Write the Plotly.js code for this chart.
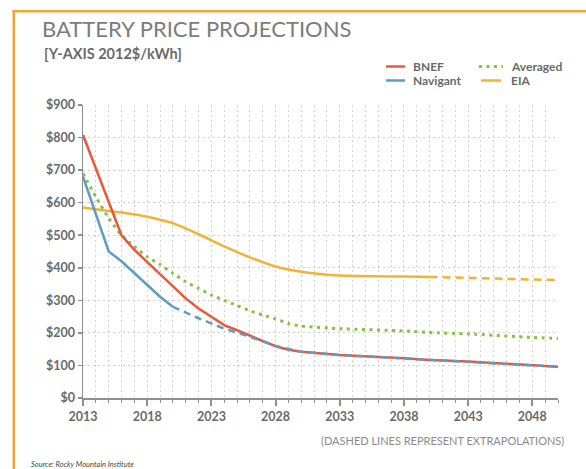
<!DOCTYPE html>
<html>
<head>
<meta charset="utf-8">
<script src="https://cdn.plot.ly/plotly-3.0.1.min.js"></script>
<style>
  html, body { margin: 0; padding: 0; background: #ffffff; }
  #chart { width: 586px; height: 469px; }
</style>
</head>
<body>
<div id="chart"></div>
<script>
// ---------------- DATA ----------------
var bnefYears = [2013, 2016, 2017, 2018, 2019, 2020, 2021, 2022, 2023, 2024, 2025, 2026, 2027, 2028, 2029, 2030];
var bnefPrice = [808, 500, 455, 418, 380, 342, 306, 275, 250, 224, 208, 192, 174, 159, 148, 142];
var bnefExtYears = [2030, 2033, 2038, 2040, 2043, 2048, 2050];
var bnefExtPrice = [142, 132, 122, 117, 112, 100, 96];

var navYears = [2013, 2015, 2016, 2017, 2018, 2019, 2020];
var navPrice = [680, 450, 420, 384, 347, 311, 280];
var navExtYears = [2020, 2022, 2024, 2026, 2028, 2030, 2033, 2038, 2040, 2043, 2048, 2050];
var navExtPrice = [280, 245, 213, 188, 160, 142, 132, 122, 117, 112, 100, 96];

var avgYears = [2013, 2014, 2015, 2016, 2017, 2018, 2019, 2020, 2021, 2022, 2023, 2024, 2025, 2026, 2027, 2028, 2029, 2030, 2033, 2038, 2040, 2043, 2048, 2050];
var avgPrice = [690, 618, 552, 500, 465, 434, 410, 383, 357, 337, 316, 300, 284, 268, 255, 243, 229, 221, 213, 206, 201, 197, 186, 183];

var eiaYears = [2013, 2014, 2016, 2018, 2020, 2022, 2024, 2026, 2028, 2030, 2033, 2038, 2040];
var eiaPrice = [585, 580, 570, 557, 537, 503, 466, 432, 404, 388, 376, 373, 372];
var eiaExtYears = [2040, 2043, 2048, 2050];
var eiaExtPrice = [372, 369, 365, 362];

var seriesNames = ["BNEF", "Navigant", "Averaged", "EIA"];
var titleText = "BATTERY PRICE PROJECTIONS";
var subtitleText = "[Y-AXIS 2012$/kWh]";
var noteText = "(DASHED LINES REPRESENT EXTRAPOLATIONS)";
var sourceText = "Source: Rocky Mountain Institute";

// ---------------- STYLE ----------------
var RED = "#e9583c", BLUE = "#5c9dc1", GREEN = "#84c341", YELLOW = "#f3b232";
var FONT = "Lato, 'Open Sans', sans-serif";
var W = 586, H = 469, ML = 83, MR = 28, MT = 105, MB = 71;
var PW = W - ML - MR, PH = H - MT - MB;
function px(x) { return (x - ML) / PW; }
function py(y) { return (H - MB - y) / PH; }

var traces = [
  {x: eiaYears, y: eiaPrice, mode: "lines", line: {color: YELLOW, width: 2.5, shape: "spline", smoothing: 0.6}},
  {x: eiaExtYears, y: eiaExtPrice, mode: "lines", line: {color: YELLOW, width: 2.5, dash: "8px,5px"}},
  {x: avgYears, y: avgPrice, mode: "lines", line: {color: GREEN, width: 3, dash: "3px,4.5px", shape: "spline", smoothing: 0.5}},
  {x: bnefYears, y: bnefPrice, mode: "lines", line: {color: RED, width: 2.5}},
  {x: bnefExtYears, y: bnefExtPrice, mode: "lines", line: {color: RED, width: 2.5}},
  {x: navYears, y: navPrice, mode: "lines", line: {color: BLUE, width: 2.5}},
  {x: navExtYears, y: navExtPrice, mode: "lines", line: {color: BLUE, width: 2.5, dash: "7px,5px"}}
];

// legend drawn by hand (short symbols as in reference)
var legendItems = [
  {name: seriesNames[0], color: RED, dash: "solid", x0: 386, x1: 405, y: 66.5, tx: 411},
  {name: seriesNames[1], color: BLUE, dash: "solid", x0: 386, x1: 405, y: 80.5, tx: 411},
  {name: seriesNames[2], color: GREEN, dash: "dot", x0: 479, x1: 503, y: 66.5, tx: 509},
  {name: seriesNames[3], color: YELLOW, dash: "solid", x0: 481, x1: 501, y: 80.5, tx: 509}
];

var shapes = [
  // orange frame (left + top)
  {type: "line", xref: "paper", yref: "paper", x0: px(13.8), x1: px(13.8), y0: py(10), y1: py(475), line: {color: "#f0a53a", width: 2.5}},
  {type: "line", xref: "paper", yref: "paper", x0: px(12.5), x1: px(600), y0: py(11.2), y1: py(11.2), line: {color: "#f0a53a", width: 2.5}}
];
var annotations = [
  {text: subtitleText, xref: "paper", yref: "paper", x: px(42), y: py(53.5), xanchor: "left", yanchor: "middle", showarrow: false,
   font: {family: FONT, size: 14.5, color: "#6a6a6a", weight: 700}},
  {text: noteText, xref: "paper", yref: "paper", x: px(566), y: py(440), xanchor: "right", yanchor: "middle", showarrow: false,
   font: {family: FONT, size: 11, color: "#8a8a8a"}},
  {text: "<i>" + sourceText + "</i>", xref: "paper", yref: "paper", x: px(29), y: py(464), xanchor: "left", yanchor: "middle", showarrow: false,
   font: {family: FONT, size: 7.5, color: "#444444"}}
];
legendItems.forEach(function (it) {
  shapes.push({type: "line", xref: "paper", yref: "paper", x0: px(it.x0), x1: px(it.x1), y0: py(it.y), y1: py(it.y),
    line: {color: it.color, width: it.dash === "dot" ? 3 : 2.5, dash: it.dash === "dot" ? "3px,4.5px" : "solid"}});
  annotations.push({text: it.name, xref: "paper", yref: "paper", x: px(it.tx), y: py(it.y), xanchor: "left", yanchor: "middle",
    showarrow: false, font: {family: FONT, size: 12, color: "#6a6a6a", weight: 700}});
});

var layout = {
  width: W, height: H,
  margin: {l: ML, r: MR, t: MT, b: MB, pad: 0},
  paper_bgcolor: "#ffffff", plot_bgcolor: "#ffffff",
  showlegend: false,
  title: {text: titleText, xref: "container", yref: "container", x: 42 / W, xanchor: "left", y: 1 - 29 / H, yanchor: "middle",
    font: {family: FONT, size: 22, color: "#7c7c7c"}},
  xaxis: {
    range: [2013, 2050], tick0: 2013, dtick: 5, tickmode: "linear",
    showline: true, linecolor: "#8f8f8f", linewidth: 1.5,
    ticks: "outside", ticklen: 6, tickwidth: 2, tickcolor: "#8f8f8f",
    showgrid: true, gridcolor: "#d2d2d2", gridwidth: 1, griddash: "2px,3px",
    zeroline: false,
    tickfont: {family: FONT, size: 12.5, color: "#6a6a6a", weight: 700},
    minor: {tick0: 2013, dtick: 1, ticks: "outside", ticklen: 3, tickwidth: 1, tickcolor: "#8f8f8f",
      showgrid: true, gridcolor: "#d2d2d2", gridwidth: 1, griddash: "2px,3px"},
    fixedrange: true
  },
  yaxis: {
    range: [0, 900], tick0: 0, dtick: 100, tickmode: "linear", tickprefix: "$",
    showline: true, linecolor: "#8f8f8f", linewidth: 1.5,
    ticks: "outside", ticklen: 4, tickwidth: 1.5, tickcolor: "#8f8f8f",
    showgrid: true, gridcolor: "#d2d2d2", gridwidth: 1, griddash: "2px,3px",
    zeroline: false,
    tickfont: {family: FONT, size: 12.5, color: "#6a6a6a", weight: 700},
    fixedrange: true
  },
  shapes: shapes,
  annotations: annotations
};

Plotly.newPlot("chart", traces, layout, {staticPlot: true, displayModeBar: false});
</script>
</body>
</html>
